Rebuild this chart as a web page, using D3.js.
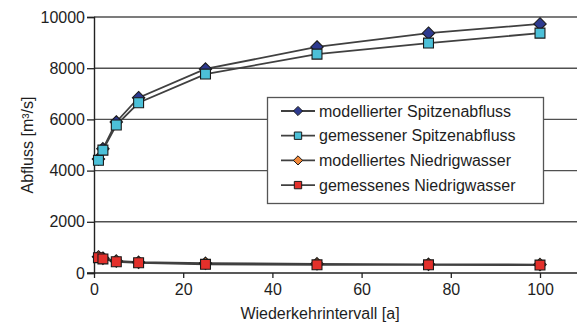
<!DOCTYPE html>
<html>
<head>
<meta charset="utf-8">
<script src="https://cdn.jsdelivr.net/npm/d3@7"></script>
<style>
  html, body { margin: 0; padding: 0; background: #fff; }
  svg { display: block; font-family: "Liberation Sans", Arial, sans-serif; }
</style>
</head>
<body>
<svg id="chart" width="577" height="328"></svg>
<script>
// Return periods (years)
const returnPeriods = [1, 2, 5, 10, 25, 50, 75, 100];

// Discharge series in m³/s
const modelledPeak = [4450, 4850, 5900, 6850, 7970, 8830, 9370, 9730];
const measuredPeak = [4400, 4800, 5780, 6650, 7770, 8550, 8980, 9370];
const modelledLow  = [630, 580, 470, 420, 380, 360, 340, 330];
const measuredLow  = [600, 550, 440, 400, 340, 320, 320, 310];

const seriesNames = [
  "modellierter Spitzenabfluss",
  "gemessener Spitzenabfluss",
  "modelliertes Niedrigwasser",
  "gemessenes Niedrigwasser"
];
const seriesColors = ["#2d3a8f", "#4cc0d8", "#f0883a", "#e3302b"];
const seriesShapes = ["diamond", "square", "diamond", "square"];

const xTicks = [0, 20, 40, 60, 80, 100];
const yTicks = [0, 2000, 4000, 6000, 8000, 10000];

const xTitle = "Wiederkehrintervall [a]";
const yTitle = "Abfluss [m³/s]";

const FONT = 16;
const TEXT = "#1e1e1e";

const svg = d3.select("#chart");
const W = 577;

const x = d3.scaleLinear().domain([0, 100]).range([94, 540]);
const y = d3.scaleLinear().domain([0, 10000]).range([273, 17]);

// Horizontal gridlines
svg.append("g")
  .selectAll("line")
  .data(yTicks.filter(d => d > 0))
  .join("line")
  .attr("x1", x(0)).attr("x2", W)
  .attr("y1", d => y(d)).attr("y2", d => y(d))
  .attr("stroke", "#505050").attr("stroke-width", 1.4);

// Axes
const yAxis = d3.axisLeft(y).tickValues(yTicks).tickSize(7).tickPadding(2)
  .tickFormat(d3.format("d"));
const gy = svg.append("g").attr("transform", `translate(${x(0)},0)`).call(yAxis);
gy.select(".domain").attr("stroke", "#222").attr("stroke-width", 1.4);
gy.selectAll(".tick line").attr("stroke", "#222").attr("stroke-width", 1.3);
gy.selectAll("text").attr("font-size", FONT).attr("fill", TEXT)
  .attr("font-family", "Liberation Sans, Arial, sans-serif");

const xAxis = d3.axisBottom(x).tickValues(xTicks).tickSize(5).tickPadding(6)
  .tickFormat(d3.format("d"));
const gx = svg.append("g").attr("transform", `translate(0,${y(0)})`).call(xAxis);
gx.select(".domain").remove();
gx.append("line").attr("x1", x(0) - 7).attr("x2", W)
  .attr("stroke", "#222").attr("stroke-width", 1.4);
gx.selectAll(".tick line").attr("stroke", "#222").attr("stroke-width", 1.3);
gx.selectAll("text").attr("font-size", FONT).attr("fill", TEXT)
  .attr("font-family", "Liberation Sans, Arial, sans-serif");

// Axis titles
svg.append("text")
  .attr("x", 320).attr("y", 319)
  .attr("text-anchor", "middle")
  .attr("font-size", FONT).attr("fill", TEXT)
  .text(xTitle);
svg.append("text")
  .attr("transform", `translate(33,${(y(0) + y(10000)) / 2}) rotate(-90)`)
  .attr("text-anchor", "middle")
  .attr("font-size", FONT).attr("fill", TEXT)
  .text(yTitle);

// Marker shapes: a squat diamond and a square
function markerPath(shape, r) {
  if (shape === "diamond") {
    return `M0,${-r}L${r},0L0,${r}L${-r},0Z`;
  }
  const h = r * 0.8;
  return `M${-h},${-h}H${h}V${h}H${-h}Z`;
}

// Data series
const seriesValues = [modelledPeak, measuredPeak, modelledLow, measuredLow];
const line = d3.line().x(d => x(d[0])).y(d => y(d[1]));

// Lines first, then markers; measured squares on top of modelled diamonds
const order = [2, 3, 0, 1];
order.forEach(i => {
  const pts = returnPeriods.map((p, j) => [p, seriesValues[i][j]]);
  svg.append("path")
    .attr("d", line(pts))
    .attr("fill", "none")
    .attr("stroke", "#404040")
    .attr("stroke-width", 1.8);
});
order.forEach(i => {
  const g = svg.append("g");
  returnPeriods.forEach((p, j) => {
    g.append("path")
      .attr("transform", `translate(${x(p)},${y(seriesValues[i][j])})`)
      .attr("d", markerPath(seriesShapes[i], 6.2))
      .attr("fill", seriesColors[i])
      .attr("stroke", "#1a1a1a")
      .attr("stroke-width", 1.1);
  });
});

// Legend
const lg = svg.append("g");
lg.append("rect")
  .attr("x", 267.5).attr("y", 97.5)
  .attr("width", 276).attr("height", 106)
  .attr("fill", "#fff")
  .attr("stroke", "#555").attr("stroke-width", 1.3);

seriesNames.forEach((name, i) => {
  const cy = 111 + i * 24.7;
  lg.append("line")
    .attr("x1", 281).attr("x2", 315)
    .attr("y1", cy).attr("y2", cy)
    .attr("stroke", "#404040").attr("stroke-width", 1.8);
  lg.append("path")
    .attr("transform", `translate(298,${cy})`)
    .attr("d", markerPath(seriesShapes[i], 4.6))
    .attr("fill", seriesColors[i])
    .attr("stroke", "#1a1a1a").attr("stroke-width", 1);
  lg.append("text")
    .attr("x", 319).attr("y", cy)
    .attr("dy", "0.35em")
    .attr("font-size", FONT).attr("fill", TEXT)
    .text(name);
});
</script>
</body>
</html>
